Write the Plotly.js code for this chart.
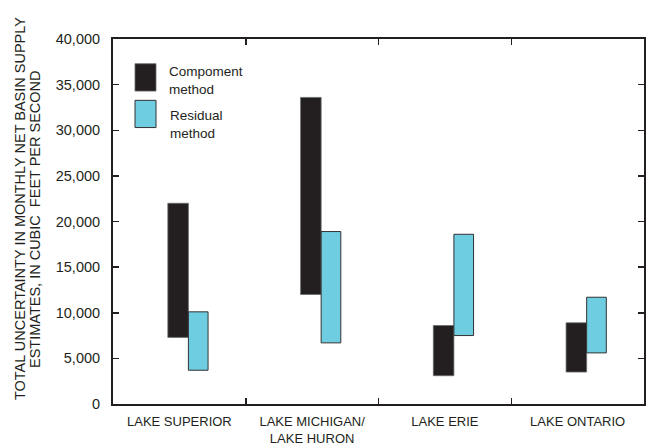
<!DOCTYPE html>
<html>
<head>
<meta charset="utf-8">
<script src="https://cdn.plot.ly/plotly-3.0.1.min.js"></script>
<style>html,body{margin:0;padding:0;background:#fff;}#chart{width:646px;height:445px;}</style>
</head>
<body>
<div id="chart"></div>
<script>
// Data (cubic feet per second)
const lakes = ["LAKE SUPERIOR", "LAKE MICHIGAN/<br>LAKE HURON", "LAKE ERIE", "LAKE ONTARIO"];
const componentLow  = [7300, 12000, 3100, 3500];
const componentHigh = [22000, 33600, 8600, 8900];
const residualLow   = [3700, 6700, 7500, 5600];
const residualHigh  = [10100, 18900, 18600, 11700];
const seriesNames = ["Compoment<br>method", "Residual<br>method"];
const yTicks = [0, 5000, 10000, 15000, 20000, 25000, 30000, 35000, 40000];

const ink = "#231f20";
const cyan = "#6ecde0";
const axisFont = {family: "Liberation Sans, Arial, sans-serif", size: 14.5, color: ink};
const catFont = {family: "Liberation Sans, Arial, sans-serif", size: 13, color: ink};
const legFont = {family: "Liberation Sans, Arial, sans-serif", size: 13.5, color: ink};

const span = (lo, hi) => hi.map((h, i) => h - lo[i]);

const traces = [
  {
    type: "bar", name: seriesNames[0], x: lakes,
    y: span(componentLow, componentHigh), base: componentLow,
    width: 0.155, offset: -0.087,
    marker: {color: ink, line: {color: "#6b6b6b", width: 0.8}},
    hoverinfo: "skip"
  },
  {
    type: "bar", name: seriesNames[1], x: lakes,
    y: span(residualLow, residualHigh), base: residualLow,
    width: 0.148, offset: 0.068,
    marker: {color: cyan, line: {color: "#333333", width: 1}},
    hoverinfo: "skip"
  }
];

// plot area in pixels: x 113..644, y 38.5..404.5
const L = 113, R = 644, T = 38.5, B = 404.5;
const px = v => (v - L) / (R - L);
const py = v => (B - v) / (B - T);

const layout = {
  width: 646, height: 445,
  margin: {l: L, r: 646 - R, t: T, b: 445 - B, pad: 0},
  paper_bgcolor: "#fff", plot_bgcolor: "#fff",
  barmode: "overlay",
  showlegend: false,
  xaxis: {
    type: "category", categoryorder: "array", categoryarray: lakes,
    range: [-0.5, 3.5],
    tickson: "boundaries", ticks: "inside", ticklen: 6, tickwidth: 1.5, tickcolor: ink,
    showline: true, linewidth: 2, linecolor: ink, mirror: "ticks",
    showgrid: false, zeroline: false,
    tickfont: catFont, ticklabelstandoff: 4
  },
  yaxis: {
    range: [0, 40000], tickvals: yTicks, tickformat: ",",
    ticks: "inside", ticklen: 6, tickwidth: 1.5, tickcolor: ink,
    showline: true, linewidth: 2, linecolor: ink, mirror: "ticks",
    showgrid: false, zeroline: false,
    tickfont: axisFont, ticklabelstandoff: 8
  },
  shapes: [
    {type: "rect", xref: "paper", yref: "paper", x0: px(135), x1: px(156), y0: py(90.7), y1: py(63.3),
     fillcolor: ink, line: {color: "#6b6b6b", width: 0.8}},
    {type: "rect", xref: "paper", yref: "paper", x0: px(135), x1: px(156), y0: py(127.3), y1: py(100),
     fillcolor: cyan, line: {color: "#333333", width: 1}}
  ],
  annotations: [
    {text: seriesNames[0], xref: "paper", yref: "paper", x: px(166.5), y: py(80), xanchor: "left", yanchor: "middle", align: "left", showarrow: false, font: legFont},
    {text: seriesNames[1], xref: "paper", yref: "paper", x: px(167.5), y: py(124.5), xanchor: "left", yanchor: "middle", align: "left", showarrow: false, font: legFont},
    {text: "TOTAL UNCERTAINTY IN MONTHLY NET BASIN SUPPLY", xref: "paper", yref: "paper", x: px(20), y: py(209), textangle: -90, xanchor: "center", yanchor: "middle", showarrow: false, font: axisFont},
    {text: "ESTIMATES, IN CUBIC \u00a0FEET PER SECOND", xref: "paper", yref: "paper", x: px(35), y: py(219), textangle: -90, xanchor: "center", yanchor: "middle", showarrow: false, font: axisFont}
  ]
};

Plotly.newPlot("chart", traces, layout, {displayModeBar: false, staticPlot: true});
</script>
</body>
</html>
